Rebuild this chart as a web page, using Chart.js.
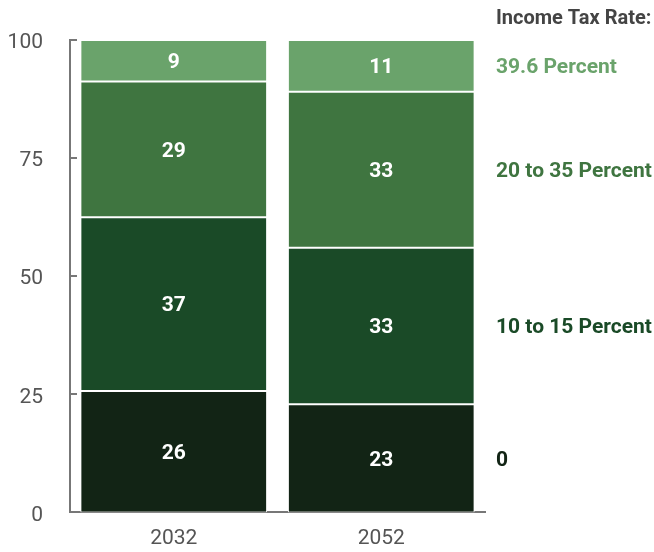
<!DOCTYPE html>
<html>
<head>
<meta charset="utf-8">
<script src="https://cdn.jsdelivr.net/npm/chart.js@4"></script>
<style>
  html, body { margin: 0; padding: 0; background: #fff; }
  #wrap { width: 654px; height: 552px; position: relative; }
</style>
</head>
<body>
<div id="wrap"><canvas id="chart" width="654" height="552"></canvas></div>
<script>
// Dados
const years = ['2032', '2052'];
const rateNames = ['0', '10 to 15 Percent', '20 to 35 Percent', '39.6 Percent'];
const rateZero = [25.7, 22.9];
const rate10to15 = [36.8, 33.1];
const rate20to35 = [28.7, 33.05];
const rate396 = [8.8, 10.95];
const yTicks = [0, 25, 50, 75, 100];
const legendTitle = 'Income Tax Rate:';

const colors = ['#122415', '#1a4a27', '#3f7540', '#6aa36b'];
const fontName = 'Roboto, "Noto Sans", sans-serif';

// Rótulos brancos dentro dos segmentos
const barLabels = {
    id: 'barLabels',
    afterDatasetsDraw(chart) {
        const ctx = chart.ctx;
        ctx.save();
        ctx.fillStyle = '#fff';
        ctx.font = 'bold 21px ' + fontName;
        ctx.textAlign = 'center';
        ctx.textBaseline = 'middle';
        chart.data.datasets.forEach((ds, i) => {
            chart.getDatasetMeta(i).data.forEach((bar, j) => {
                const p = bar.getProps(['x', 'y', 'base'], true);
                ctx.fillText(Math.round(ds.data[j]), p.x, (p.y + p.base) / 2 + 2);
            });
        });
        ctx.restore();
    }
};

// Legenda à direita, alinhada com a barra de 2052
const sideLegend = {
    id: 'sideLegend',
    afterDraw(chart) {
        const ctx = chart.ctx;
        const x = chart.chartArea.right + 11;
        const last = years.length - 1;
        ctx.save();
        ctx.textAlign = 'left';
        ctx.textBaseline = 'middle';
        ctx.font = 'bold 20px ' + fontName;
        ctx.fillStyle = '#444';
        ctx.fillText(legendTitle, x, 19);
        ctx.font = 'bold 21px ' + fontName;
        chart.data.datasets.forEach((ds, i) => {
            const bar = chart.getDatasetMeta(i).data[last];
            const p = bar.getProps(['y', 'base'], true);
            ctx.fillStyle = colors[i];
            ctx.fillText(ds.label, x, (p.y + p.base) / 2 + 2);
        });
        ctx.restore();
    }
};

// Marcas do eixo Y voltadas para dentro
const innerTicks = {
    id: 'innerTicks',
    afterDraw(chart) {
        const ctx = chart.ctx;
        const y = chart.scales.y;
        const left = chart.chartArea.left;
        ctx.save();
        ctx.strokeStyle = '#777';
        ctx.lineWidth = 2;
        yTicks.forEach(v => {
            const py = Math.round(y.getPixelForValue(v));
            ctx.beginPath();
            ctx.moveTo(left, py);
            ctx.lineTo(left + 7, py);
            ctx.stroke();
        });
        ctx.restore();
    }
};

const seriesValues = [rateZero, rate10to15, rate20to35, rate396];

new Chart(document.getElementById('chart'), {
    type: 'bar',
    data: {
        labels: years,
        datasets: seriesValues.map((vals, i) => ({
            label: rateNames[i],
            data: vals,
            backgroundColor: colors[i],
            borderColor: '#fff',
            borderWidth: 1,
            borderSkipped: false,
            categoryPercentage: 1,
            barPercentage: 0.9
        }))
    },
    options: {
        responsive: false,
        animation: false,
        events: [],
        layout: { padding: { left: 0, right: 169, top: 40, bottom: 0 } },
        plugins: {
            legend: { display: false },
            tooltip: { enabled: false }
        },
        scales: {
            x: {
                stacked: true,
                grid: { display: false, drawTicks: false },
                border: { display: true, color: '#777', width: 2 },
                ticks: {
                    color: '#555',
                    font: { family: fontName, size: 21 },
                    padding: 14
                },
                afterFit(scale) { scale.height = 38; }
            },
            y: {
                stacked: true,
                min: 0,
                max: 100,
                afterBuildTicks(scale) {
                    scale.ticks = yTicks.map(v => ({ value: v }));
                },
                grid: { display: false, drawTicks: false },
                border: { display: true, color: '#777', width: 2 },
                ticks: {
                    color: '#555',
                    font: { family: fontName, size: 21 },
                    padding: 27,
                    labelOffset: 3
                },
                afterFit(scale) { scale.width = 70; }
            }
        }
    },
    plugins: [barLabels, sideLegend, innerTicks]
});
</script>
</body>
</html>
